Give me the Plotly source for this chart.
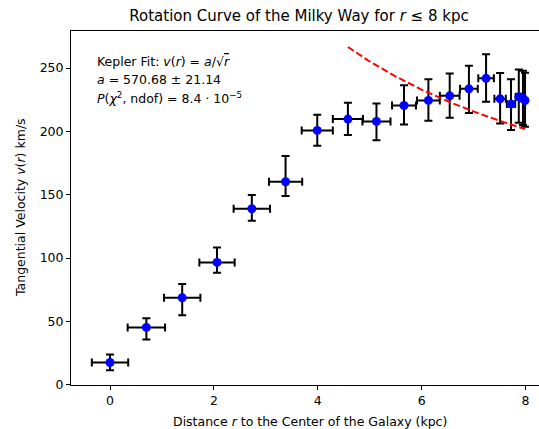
import numpy as np
import plotly.graph_objects as go

# Data
r_kpc = [0.0, 0.70, 1.39, 2.06, 2.73, 3.38, 3.99, 4.58, 5.13, 5.66,
         6.13, 6.54, 6.91, 7.24, 7.51, 7.72, 7.87, 7.95, 7.99]
v_kms = [17.5, 45.2, 68.6, 96.5, 138.9, 160.2, 200.8, 209.7, 207.9, 220.5,
         224.5, 228.1, 233.6, 241.9, 225.7, 221.6, 227.3, 226.1, 224.5]
r_err = [0.35, 0.36, 0.35, 0.34, 0.35, 0.32, 0.30, 0.29, 0.27, 0.23,
         0.22, 0.19, 0.17, 0.15, 0.11, 0.08, 0.06, 0.04, 0.02]
v_err_plus = [6.3, 7.3, 10.8, 11.8, 10.8, 20.3, 12.3, 12.9, 14.2, 16.0,
              16.6, 17.7, 18.2, 19.0, 20.5, 19.5, 21.6, 21.8, 21.8]
v_err_minus = [6.1, 9.5, 13.9, 8.2, 9.5, 11.3, 12.2, 12.6, 14.8, 15.0,
               16.1, 17.4, 19.0, 18.5, 19.4, 20.5, 20.5, 21.1, 20.9]

# Kepler fit parameter
kepler_a = 570.68
fit_r_min = 4.58
fit_r_max = 7.99

x_ticks = [0, 2, 4, 6, 8]
y_ticks = [0, 50, 100, 150, 200, 250]

FONT = "DejaVu Sans"

fig = go.Figure()
fig.add_trace(go.Scatter(
    x=r_kpc, y=v_kms, mode="markers",
    marker=dict(color="#0000ff", size=9),
    error_x=dict(type="data", array=r_err, color="black", thickness=2, width=4),
    error_y=dict(type="data", symmetric=False, array=v_err_plus,
                 arrayminus=v_err_minus, color="black", thickness=2, width=4),
    showlegend=False,
))

r_fit = np.linspace(fit_r_min, fit_r_max, 200)
fig.add_trace(go.Scatter(
    x=r_fit, y=kepler_a / np.sqrt(r_fit), mode="lines",
    line=dict(color="#ff0000", width=2, dash="7px,3px"),
    showlegend=False,
))

axis_common = dict(
    showgrid=False, zeroline=False, showline=True, linecolor="black",
    linewidth=1, ticks="outside", ticklen=4, tickwidth=1, tickcolor="black",
    tickfont=dict(family=FONT, size=12.5, color="black"),
)

fig.update_layout(
    width=539, height=429,
    margin=dict(l=71, r=0, t=31, b=44),
    paper_bgcolor="white", plot_bgcolor="white",
    font=dict(family=FONT, color="black"),
    title=dict(
        text="Rotation Curve of the Milky Way for <i>r</i> ≤ 8 kpc",
        xref="container", x=299 / 539, xanchor="center",
        yref="container", y=1 - 16 / 429, yanchor="middle",
        font=dict(family=FONT, size=15, color="black"),
    ),
    xaxis=dict(range=[-0.751, 8.259], tickvals=x_ticks, mirror=True, **axis_common),
    yaxis=dict(range=[-0.3, 279.3], tickvals=y_ticks, mirror=False, **axis_common),
)

text_lines = [
    "Kepler Fit: <i>v</i>(<i>r</i>) = <i>a</i>/√<span style=\"text-decoration:overline\"><i>r</i></span>",
    "<i>a</i> = 570.68 ± 21.14",
    "<i>P</i>(<i>χ</i><sup>2</sup>, ndof) = 8.4 · 10<sup>−5</sup>",
]
text_y_px = [61, 79, 98]
for t, ypx in zip(text_lines, text_y_px):
    fig.add_annotation(
        text=t, xref="paper", yref="paper",
        x=(95 - 71) / 468, y=(385 - ypx) / 354,
        xanchor="left", yanchor="middle", showarrow=False,
        font=dict(family=FONT, size=12.5, color="black"),
    )

# axis labels
fig.add_annotation(
    text="Distance <i>r</i> to the Center of the Galaxy (kpc)",
    xref="paper", yref="paper", x=(309.5 - 71) / 468, y=(385 - 421) / 354,
    xanchor="center", yanchor="middle", showarrow=False,
    font=dict(family=FONT, size=12.5, color="black"),
)
fig.add_annotation(
    text="Tangential Velocity <i>v</i>(<i>r</i>) km/s",
    xref="paper", yref="paper", x=(20 - 71) / 468, y=(385 - 208) / 354,
    xanchor="center", yanchor="middle", showarrow=False, textangle=-90,
    font=dict(family=FONT, size=12.5, color="black"),
)

fig.write_html(
    "out.html",
    config={"displayModeBar": False},
    post_script="document.body.style.margin='0';document.body.style.padding='0';",
)
